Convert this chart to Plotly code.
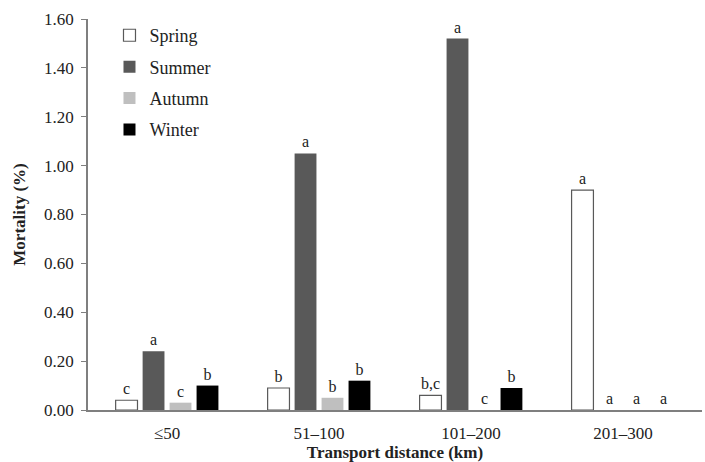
import plotly.graph_objects as go

categories = ["≤50", "51–100", "101–200", "201–300"]
spring = [0.04, 0.09, 0.06, 0.90]
summer = [0.24, 1.05, 1.52, 0.00]
autumn = [0.03, 0.05, 0.00, 0.00]
winter = [0.10, 0.12, 0.09, 0.00]
spring_lbl = ["c", "b", "b,c", "a"]
summer_lbl = ["a", "a", "a", "a"]
autumn_lbl = ["c", "b", "c", "a"]
winter_lbl = ["b", "b", "b", "a"]
y_ticks = [0.0, 0.2, 0.4, 0.6, 0.8, 1.0, 1.2, 1.4, 1.6]

FONT = "Liberation Serif"
TXT = "#222222"
AX = "#7f7f7f"
series = [
    ("Spring", spring, spring_lbl, "white", "#595959", 1.2),
    ("Summer", summer, summer_lbl, "#595959", "#595959", 0),
    ("Autumn", autumn, autumn_lbl, "#bfbfbf", "#bfbfbf", 0),
    ("Winter", winter, winter_lbl, "#000000", "#000000", 0),
]

fig = go.Figure()
for name, vals, lbl, fill, line, lw in series:
    fig.add_trace(go.Bar(
        name=name, x=categories, y=vals, text=lbl,
        textposition="outside", constraintext="none", cliponaxis=False,
        textfont=dict(family=FONT, size=16, color=TXT),
        marker=dict(color=fill, line=dict(color=line, width=lw)),
        legendgroup=name,
    ))

fig.update_layout(
    width=705, height=462,
    margin=dict(l=88, r=3, t=19, b=52),
    paper_bgcolor="white", plot_bgcolor="white",
    barmode="group", bargap=0.29, bargroupgap=0.19,
    font=dict(family=FONT, size=16, color=TXT),
    showlegend=True,
    legend=dict(x=0.035, y=1.005, xanchor="left", yanchor="top",
                bgcolor="rgba(0,0,0,0)", tracegroupgap=5,
                font=dict(family=FONT, size=18, color=TXT),
                itemwidth=30),
    xaxis=dict(range=[-0.52, 3.52], showline=True, linecolor=AX,
               linewidth=1.5, ticks="", showgrid=False,
               ticklabelstandoff=7,
               tickfont=dict(family=FONT, size=17, color=TXT),
               title=dict(text="<b>Transport distance (km)</b>",
                          font=dict(family=FONT, size=17, color=TXT),
                          standoff=4)),
    yaxis=dict(range=[0, 1.6], tickvals=y_ticks,
               ticktext=[f"{v:.2f}" for v in y_ticks],
               showline=True, linecolor=AX, linewidth=1.5,
               ticks="outside", ticklen=5, tickcolor=AX,
               ticklabelstandoff=4,
               showgrid=False, zeroline=False,
               tickfont=dict(family=FONT, size=17, color=TXT),
               title=dict(text="<b>Mortality (%)</b>",
                          font=dict(family=FONT, size=17, color=TXT),
                          standoff=14)),
)

fig.write_html("out.html", config={"displayModeBar": False},
               post_script="document.body.style.margin='0';")
